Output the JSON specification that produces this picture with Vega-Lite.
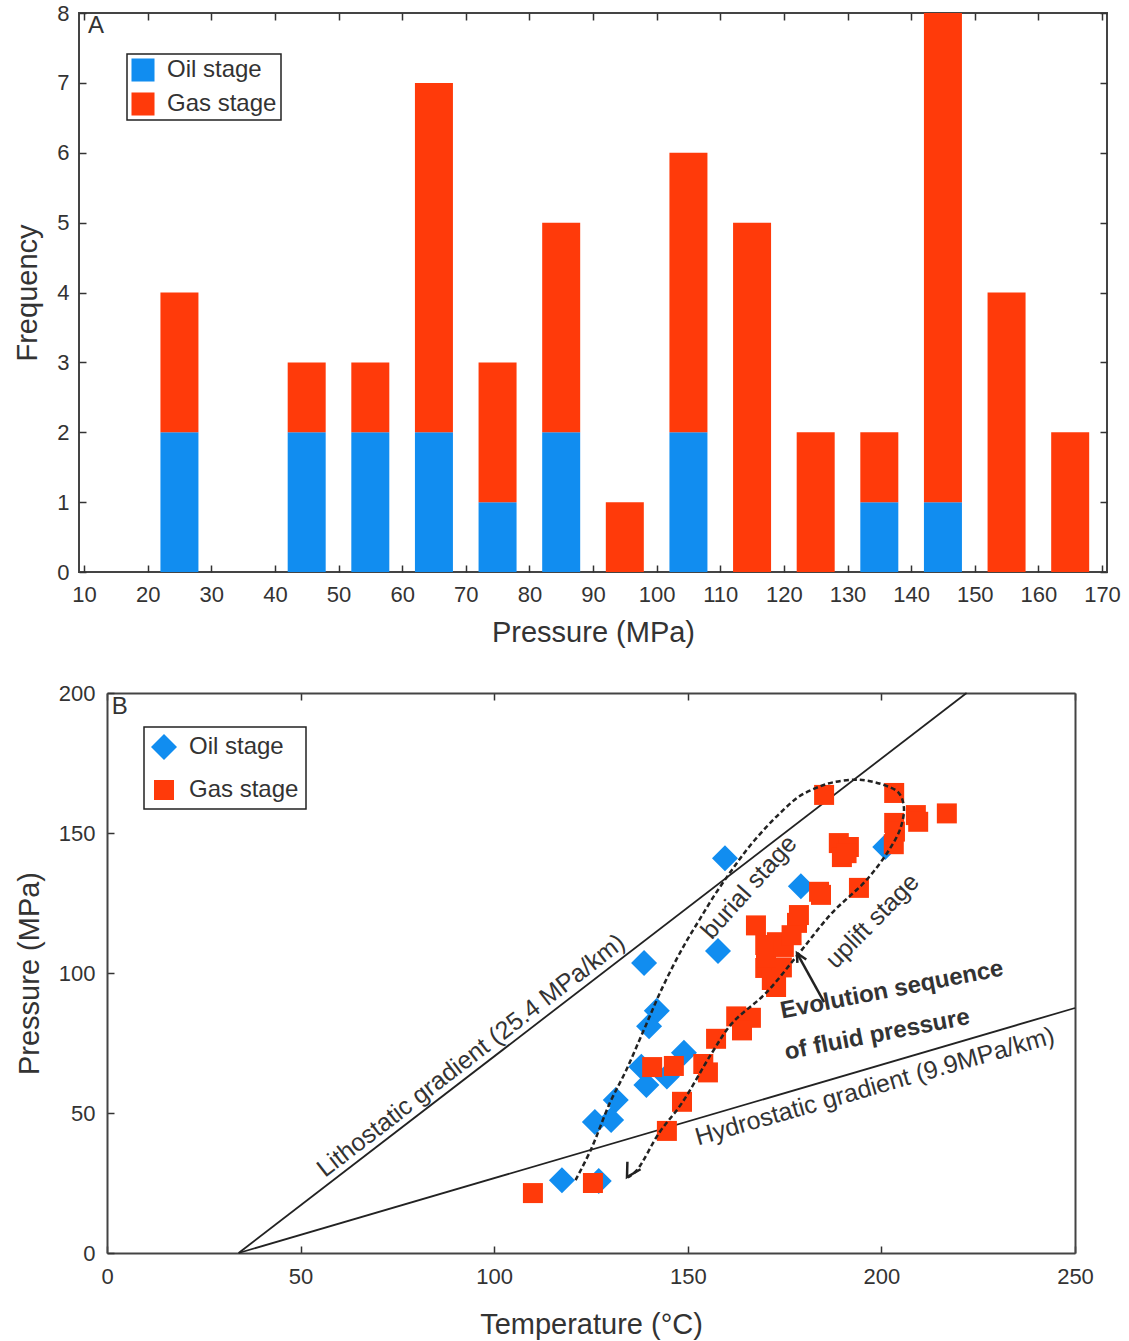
{
  "$schema": "https://vega.github.io/schema/vega-lite/v6.json",
  "background": "white",
  "padding": {"left": 12, "top": 1, "right": 5, "bottom": 5},
  "columns": 1,
  "spacing": 34,
  "resolve": {"scale": {"color": "independent", "shape": "independent", "size": "independent"}},
  "config": {
    "font": "Liberation Sans",
    "view": {"stroke": "#444", "strokeWidth": 2},
    "axis": {
      "domain": false, "grid": false, "tickColor": "#333", "tickSize": -7, "tickWidth": 1.5,
      "domainColor": "#444", "domainWidth": 2,
      "labelFontSize": 22, "labelColor": "#333", "labelFlush": false, "labelOverlap": false, "labelBound": false,
      "titleFontSize": 29, "titleFontWeight": "normal", "titleColor": "#333"
    },
    "legend": {"strokeWidth": 1.5}
  },
  "concat": [
    {
      "width": 1028,
      "height": 559,
      "resolve": {"axis": {"x": "independent", "y": "independent"}},
      "layer": [
        {
          "data": {"values": [
            {"pressure": 25, "stage": "Oil stage", "count": 2}, {"pressure": 25, "stage": "Gas stage", "count": 2},
            {"pressure": 45, "stage": "Oil stage", "count": 2}, {"pressure": 45, "stage": "Gas stage", "count": 1},
            {"pressure": 55, "stage": "Oil stage", "count": 2}, {"pressure": 55, "stage": "Gas stage", "count": 1},
            {"pressure": 65, "stage": "Oil stage", "count": 2}, {"pressure": 65, "stage": "Gas stage", "count": 5},
            {"pressure": 75, "stage": "Oil stage", "count": 1}, {"pressure": 75, "stage": "Gas stage", "count": 2},
            {"pressure": 85, "stage": "Oil stage", "count": 2}, {"pressure": 85, "stage": "Gas stage", "count": 3},
            {"pressure": 95, "stage": "Gas stage", "count": 1},
            {"pressure": 105, "stage": "Oil stage", "count": 2}, {"pressure": 105, "stage": "Gas stage", "count": 4},
            {"pressure": 115, "stage": "Gas stage", "count": 5},
            {"pressure": 125, "stage": "Gas stage", "count": 2},
            {"pressure": 135, "stage": "Oil stage", "count": 1}, {"pressure": 135, "stage": "Gas stage", "count": 1},
            {"pressure": 145, "stage": "Oil stage", "count": 1}, {"pressure": 145, "stage": "Gas stage", "count": 7},
            {"pressure": 155, "stage": "Gas stage", "count": 4},
            {"pressure": 165, "stage": "Gas stage", "count": 2}
          ]},
          "mark": {"type": "bar", "width": 38},
          "encoding": {
            "x": {"field": "pressure", "type": "quantitative",
                  "scale": {"domain": [10, 170], "nice": false, "zero": false},
                  "axis": {"orient": "bottom", "values": [10,20,30,40,50,60,70,80,90,100,110,120,130,140,150,160,170],
                           "title": "Pressure (MPa)", "labelPadding": 19, "titlePadding": 13}},
            "y": {"field": "count", "type": "quantitative", "stack": "zero",
                  "scale": {"domain": [0, 8], "nice": false},
                  "axis": {"orient": "left", "values": [0,1,2,3,4,5,6,7,8], "title": "Frequency",
                           "labelPadding": 17, "titlePadding": 14}},
            "color": {"field": "stage", "type": "nominal",
                      "scale": {"domain": ["Oil stage", "Gas stage"], "range": ["#118DF0", "#FF3A0A"]},
                      "legend": {"title": null, "orient": "none", "legendX": 48, "legendY": 41,
                                 "strokeColor": "#222", "fillColor": "white", "padding": 4, "rowPadding": 10,
                                 "symbolType": "square", "symbolSize": 530, "symbolStrokeWidth": 0,
                                 "labelFontSize": 24, "labelColor": "#333", "labelOffset": 12}},
            "order": {"field": "stage", "sort": "descending"}
          }
        },
        {
          "data": {"values": [{}]},
          "mark": {"type": "text", "text": "A", "fontSize": 24, "color": "#333", "align": "center", "baseline": "middle"},
          "encoding": {
            "x": {"datum": 11.9, "type": "quantitative",
                  "axis": {"orient": "top", "labels": false, "title": null,
                           "values": [10,20,30,40,50,60,70,80,90,100,110,120,130,140,150,160,170]}},
            "y": {"datum": 7.81, "type": "quantitative",
                  "axis": {"orient": "right", "labels": false, "title": null, "values": [0,1,2,3,4,5,6,7,8]}}
          }
        }
      ]
    },
    {
      "width": 996,
      "height": 560,
      "view": {"stroke": null},
      "resolve": {"axis": {"x": "independent", "y": "independent"}},
      "layer": [
        {
          "data": {"values": [
            {"line": "Lithostatic", "T": 34, "P": 0}, {"line": "Lithostatic", "T": 222, "P": 200},
            {"line": "Hydrostatic", "T": 34, "P": 0}, {"line": "Hydrostatic", "T": 250, "P": 87.5}
          ]},
          "mark": {"type": "line", "color": "#222", "strokeWidth": 1.8},
          "encoding": {
            "x": {"field": "T", "type": "quantitative", "scale": {"domain": [0, 250], "nice": false, "range": [28, 996]},
                  "axis": {"orient": "bottom", "domain": true, "values": [0,50,100,150,200,250], "title": "Temperature (°C)",
                           "labelPadding": 20, "titlePadding": 23}},
            "y": {"field": "P", "type": "quantitative", "scale": {"domain": [0, 200], "nice": false},
                  "axis": {"orient": "left", "domain": true, "offset": -28, "values": [0,50,100,150,200], "title": "Pressure (MPa)",
                           "labelPadding": 19, "titlePadding": 14}},
            "detail": {"field": "line"}
          }
        },
        {
          "data": {"values": [
            {"stage": "Oil stage", "T": 159.6, "P": 141},
            {"stage": "Oil stage", "T": 138.7, "P": 103.6},
            {"stage": "Oil stage", "T": 157.8, "P": 107.9},
            {"stage": "Oil stage", "T": 179.2, "P": 131},
            {"stage": "Oil stage", "T": 201, "P": 145},
            {"stage": "Oil stage", "T": 142, "P": 86.5},
            {"stage": "Oil stage", "T": 140, "P": 81},
            {"stage": "Oil stage", "T": 138, "P": 66.5},
            {"stage": "Oil stage", "T": 139.3, "P": 60},
            {"stage": "Oil stage", "T": 149, "P": 71.5},
            {"stage": "Oil stage", "T": 144.6, "P": 63},
            {"stage": "Oil stage", "T": 131.4, "P": 54.6},
            {"stage": "Oil stage", "T": 130.2, "P": 47.5},
            {"stage": "Oil stage", "T": 126, "P": 46.8},
            {"stage": "Oil stage", "T": 117.5, "P": 26},
            {"stage": "Oil stage", "T": 127, "P": 25.7},
            {"stage": "Gas stage", "T": 110, "P": 21.4},
            {"stage": "Gas stage", "T": 125.5, "P": 25},
            {"stage": "Gas stage", "T": 140.8, "P": 66.4},
            {"stage": "Gas stage", "T": 146.4, "P": 66.8},
            {"stage": "Gas stage", "T": 144.6, "P": 43.6},
            {"stage": "Gas stage", "T": 148.5, "P": 54},
            {"stage": "Gas stage", "T": 154, "P": 67.5},
            {"stage": "Gas stage", "T": 155.2, "P": 64.5},
            {"stage": "Gas stage", "T": 157.3, "P": 76.5},
            {"stage": "Gas stage", "T": 162.5, "P": 84.5},
            {"stage": "Gas stage", "T": 166.3, "P": 84},
            {"stage": "Gas stage", "T": 164, "P": 79.5},
            {"stage": "Gas stage", "T": 170, "P": 101.8},
            {"stage": "Gas stage", "T": 174.3, "P": 102},
            {"stage": "Gas stage", "T": 171.7, "P": 97.5},
            {"stage": "Gas stage", "T": 172.8, "P": 95},
            {"stage": "Gas stage", "T": 170.2, "P": 105.4},
            {"stage": "Gas stage", "T": 173, "P": 111},
            {"stage": "Gas stage", "T": 170, "P": 110},
            {"stage": "Gas stage", "T": 174.8, "P": 109.3},
            {"stage": "Gas stage", "T": 167.6, "P": 117},
            {"stage": "Gas stage", "T": 178.2, "P": 117.9},
            {"stage": "Gas stage", "T": 178.7, "P": 120.7},
            {"stage": "Gas stage", "T": 176.8, "P": 113.5},
            {"stage": "Gas stage", "T": 183.9, "P": 129},
            {"stage": "Gas stage", "T": 184.4, "P": 127.9},
            {"stage": "Gas stage", "T": 194.2, "P": 130.4},
            {"stage": "Gas stage", "T": 189, "P": 146.4},
            {"stage": "Gas stage", "T": 191.6, "P": 145},
            {"stage": "Gas stage", "T": 189.8, "P": 141.4},
            {"stage": "Gas stage", "T": 191, "P": 142.8},
            {"stage": "Gas stage", "T": 185.2, "P": 163.6},
            {"stage": "Gas stage", "T": 203.3, "P": 164.3},
            {"stage": "Gas stage", "T": 208.9, "P": 156.4},
            {"stage": "Gas stage", "T": 216.9, "P": 157},
            {"stage": "Gas stage", "T": 209.5, "P": 154},
            {"stage": "Gas stage", "T": 203.3, "P": 153.6},
            {"stage": "Gas stage", "T": 203.2, "P": 146},
            {"stage": "Gas stage", "T": 203.5, "P": 150.5}
          ]},
          "mark": {"type": "point", "filled": true, "opacity": 1, "strokeWidth": 0},
          "encoding": {
            "x": {"field": "T", "type": "quantitative", "axis": null},
            "y": {"field": "P", "type": "quantitative", "axis": null},
            "color": {"field": "stage", "type": "nominal",
                      "scale": {"domain": ["Oil stage", "Gas stage"], "range": ["#118DF0", "#FF3A0A"]},
                      "legend": {"title": null, "orient": "none", "legendX": 65, "legendY": 34,
                                 "strokeColor": "#222", "fillColor": "white", "padding": 7, "rowPadding": 18,
                                 "symbolStrokeWidth": 0, "labelFontSize": 24, "labelColor": "#333", "labelOffset": 12}},
            "shape": {"field": "stage", "type": "nominal",
                      "scale": {"domain": ["Oil stage", "Gas stage"], "range": ["diamond", "square"]}},
            "size": {"field": "stage", "type": "nominal",
                     "scale": {"domain": ["Oil stage", "Gas stage"], "range": [676, 400]}}
          }
        },
        {
          "data": {"values": [
            {"seq": 1, "T": 121, "P": 26}, {"seq": 2, "T": 125, "P": 37}, {"seq": 3, "T": 130, "P": 54},
            {"seq": 4, "T": 134, "P": 65}, {"seq": 5, "T": 137.5, "P": 76}, {"seq": 6, "T": 140, "P": 84},
            {"seq": 7, "T": 142.5, "P": 92}, {"seq": 8, "T": 146, "P": 102}, {"seq": 9, "T": 149.5, "P": 111},
            {"seq": 10, "T": 153, "P": 119}, {"seq": 11, "T": 157, "P": 128}, {"seq": 12, "T": 161.4, "P": 136.8},
            {"seq": 13, "T": 165.5, "P": 144.5}, {"seq": 14, "T": 170.2, "P": 152}, {"seq": 15, "T": 174.5, "P": 158},
            {"seq": 16, "T": 178.7, "P": 163}, {"seq": 17, "T": 183, "P": 166}, {"seq": 18, "T": 187.2, "P": 168},
            {"seq": 19, "T": 194.2, "P": 169}, {"seq": 20, "T": 201, "P": 167}, {"seq": 21, "T": 204.5, "P": 164.3},
            {"seq": 22, "T": 205.8, "P": 159.3}, {"seq": 23, "T": 205, "P": 152}, {"seq": 24, "T": 202, "P": 144},
            {"seq": 25, "T": 196, "P": 133}, {"seq": 26, "T": 187.2, "P": 121.4}, {"seq": 27, "T": 178.7, "P": 107},
            {"seq": 28, "T": 170.2, "P": 92.9}, {"seq": 29, "T": 161.4, "P": 82}, {"seq": 30, "T": 156.2, "P": 71.4},
            {"seq": 31, "T": 148.5, "P": 53.6}, {"seq": 32, "T": 142.6, "P": 42.9}, {"seq": 33, "T": 136.8, "P": 29.5},
            {"seq": 34, "T": 134.5, "P": 27}
          ]},
          "mark": {"type": "line", "interpolate": "catmull-rom", "color": "#222", "strokeWidth": 2.5, "strokeDash": [5, 3]},
          "encoding": {
            "x": {"field": "T", "type": "quantitative", "axis": null},
            "y": {"field": "P", "type": "quantitative", "axis": null},
            "order": {"field": "seq"}
          }
        },
        {
          "data": {"values": [
            {"path": "evolution head", "seq": 1, "T": 137.8, "P": 29.9},
            {"path": "evolution head", "seq": 2, "T": 134.3, "P": 27.1},
            {"path": "evolution head", "seq": 3, "T": 134.4, "P": 32.6},
            {"path": "pointer", "seq": 1, "T": 185.2, "P": 89.6},
            {"path": "pointer", "seq": 2, "T": 178.2, "P": 107.1},
            {"path": "pointer head", "seq": 1, "T": 178.3, "P": 103.6},
            {"path": "pointer head", "seq": 2, "T": 178.2, "P": 107.1},
            {"path": "pointer head", "seq": 3, "T": 180.6, "P": 104.8}
          ]},
          "mark": {"type": "line", "color": "#222", "strokeWidth": 2.5},
          "encoding": {
            "x": {"field": "T", "type": "quantitative", "axis": null},
            "y": {"field": "P", "type": "quantitative", "axis": null},
            "detail": {"field": "path"},
            "order": {"field": "seq"}
          }
        },
        {
          "data": {"values": [{}]},
          "mark": {"type": "text", "text": "Lithostatic gradient (25.4 MPa/km)", "fontSize": 25, "color": "#333", "angle": -37.6, "align": "center", "baseline": "middle"},
          "encoding": {"x": {"datum": 94, "type": "quantitative", "axis": null}, "y": {"datum": 70.5, "type": "quantitative", "axis": null}}
        },
        {
          "data": {"values": [{}]},
          "mark": {"type": "text", "text": "Hydrostatic gradient (9.9MPa/km)", "fontSize": 25, "color": "#333", "angle": -16, "align": "center", "baseline": "middle"},
          "encoding": {"x": {"datum": 198.3, "type": "quantitative", "axis": null}, "y": {"datum": 59.5, "type": "quantitative", "axis": null}}
        },
        {
          "data": {"values": [{}]},
          "mark": {"type": "text", "text": "burial stage", "fontSize": 25, "color": "#333", "angle": -48, "align": "center", "baseline": "middle"},
          "encoding": {"x": {"datum": 165.8, "type": "quantitative", "axis": null}, "y": {"datum": 130.7, "type": "quantitative", "axis": null}}
        },
        {
          "data": {"values": [{}]},
          "mark": {"type": "text", "text": "uplift stage", "fontSize": 25, "color": "#333", "angle": -45.5, "align": "center", "baseline": "middle"},
          "encoding": {"x": {"datum": 197.7, "type": "quantitative", "axis": null}, "y": {"datum": 118.6, "type": "quantitative", "axis": null}}
        },
        {
          "data": {"values": [{}]},
          "mark": {"type": "text", "text": "Evolution sequence", "fontSize": 24, "fontWeight": "bold", "color": "#333", "angle": -11, "align": "center", "baseline": "middle"},
          "encoding": {"x": {"datum": 202.7, "type": "quantitative", "axis": null}, "y": {"datum": 93.9, "type": "quantitative", "axis": null}}
        },
        {
          "data": {"values": [{}]},
          "mark": {"type": "text", "text": "of fluid pressure", "fontSize": 24, "fontWeight": "bold", "color": "#333", "angle": -11, "align": "center", "baseline": "middle"},
          "encoding": {"x": {"datum": 198.9, "type": "quantitative", "axis": null}, "y": {"datum": 77.9, "type": "quantitative", "axis": null}}
        },
        {
          "data": {"values": [{}]},
          "mark": {"type": "text", "text": "B", "fontSize": 24, "color": "#333", "align": "center", "baseline": "middle"},
          "encoding": {
            "x": {"datum": 3.3, "type": "quantitative",
                  "axis": {"orient": "top", "domain": true, "labels": false, "title": null, "values": [0,50,100,150,200,250]}},
            "y": {"datum": 195, "type": "quantitative",
                  "axis": {"orient": "right", "domain": true, "ticks": false, "labels": false, "title": null}}
          }
        }
      ]
    }
  ]
}
